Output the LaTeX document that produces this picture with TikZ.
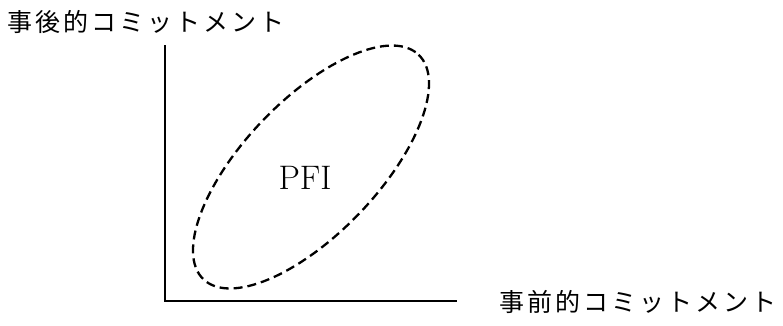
\documentclass[tikz,border=0pt]{standalone}
\usepackage{fontspec}
\newfontfamily\cjk{Noto Sans CJK JP}
\newcommand\jch[1]{\makebox[28pt]{#1}}
\begin{document}
\begin{tikzpicture}[x=1pt,y=-1pt,
  axis/.style={line width=2.4pt},
  region/.style={line width=2.3pt, dash pattern=on 9pt off 5pt},
  jlabel/.style={inner sep=0pt, font=\cjk\fontsize{25}{25}\selectfont},
  plabel/.style={inner sep=0pt, font=\fontsize{34}{34}\selectfont}]
\useasboundingbox (0,0) rectangle (783,325);
\coordinate (ytop) at (165,45);
\coordinate (origin) at (165,301);
\coordinate (xend) at (457,301);
\draw[axis] (ytop) -- (origin) -- (xend);
\draw[region] (311,167) ellipse[x radius=155.5, y radius=67, rotate=46.2];
\node[plabel] (pfi) at (305,178) {PFI};
\node[jlabel, anchor=west] (ylab) at (6,22) {\jch{事}\jch{後}\jch{的}\jch{コ}\jch{ミ}\jch{ッ}\jch{ト}\jch{メ}\jch{ン}\jch{ト}};
\node[jlabel, anchor=west] (xlab) at (498,302) {\jch{事}\jch{前}\jch{的}\jch{コ}\jch{ミ}\jch{ッ}\jch{ト}\jch{メ}\jch{ン}\jch{ト}};
\end{tikzpicture}
\end{document}
